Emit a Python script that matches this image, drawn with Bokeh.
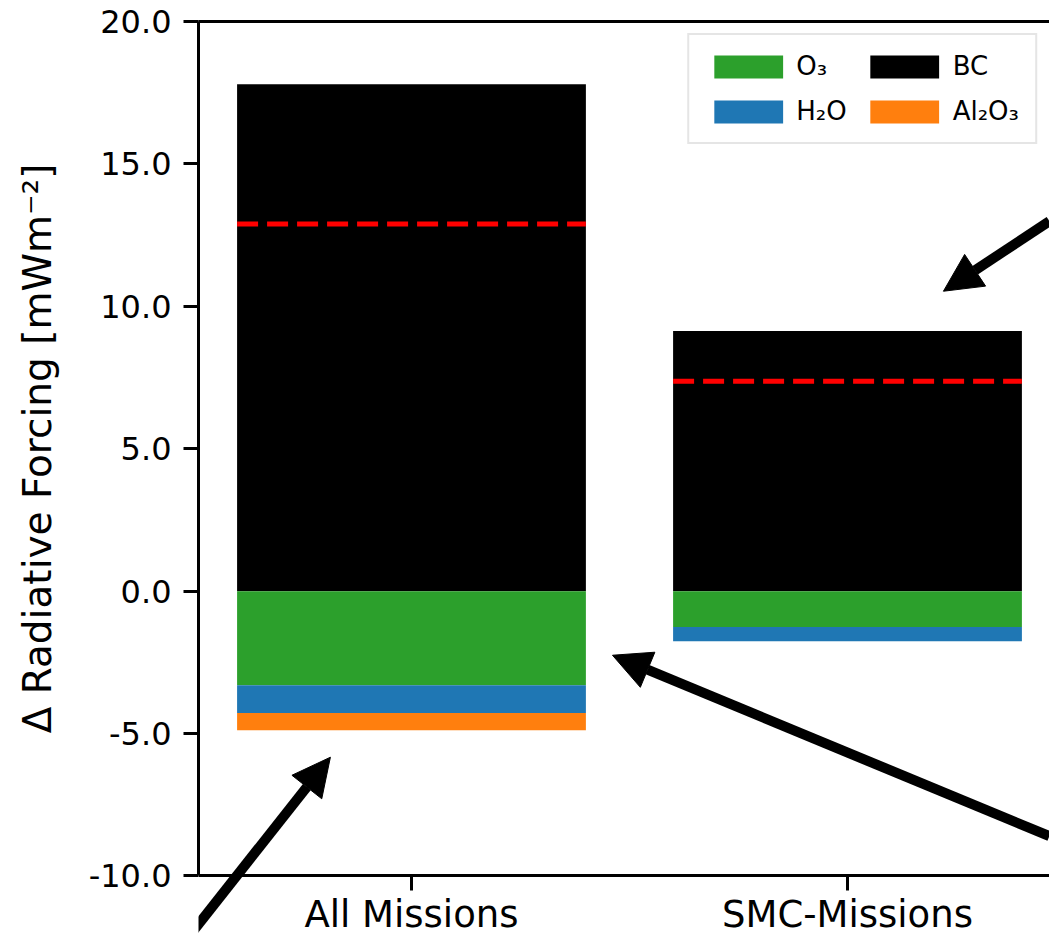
from bokeh.plotting import figure
from bokeh.models import (Range1d, FixedTicker, NumeralTickFormatter, LinearAxis,
                          Legend, LegendItem, Arrow, NormalHead, ColumnDataSource)
from bokeh.embed import file_html
from bokeh.resources import INLINE

# ---- data ----
missions = ["All Missions", "SMC-Missions"]
bc = [17.80, 9.13]
o3 = [-3.30, -1.26]
h2o = [-0.98, -0.50]
al2o3 = [-0.60, 0.0]
net_rf = [12.89, 7.37]
y_ticks = [-10, -5, 0, 5, 10, 15, 20]
y_axis_min, y_axis_max = -10, 20
legend_labels = ["O\u2083", "BC", "H\u2082O", "Al\u2082O\u2083"]

# annotation arrows (data coordinates)
arrow_x_start = [1.463, 1.463, -0.530]
arrow_y_start = [12.99, -8.60, -12.50]
arrow_x_end = [1.220, 0.461, -0.186]
arrow_y_end = [10.53, -2.25, -5.83]

FONT = "DejaVu Sans"
C_O3, C_H2O, C_AL, C_BC = "#2ca02c", "#1f77b4", "#ff7f0e", "black"

x = list(range(len(missions)))
h2o_top = o3
h2o_bot = [a + b for a, b in zip(o3, h2o)]
al_top = h2o_bot
al_bot = [a + b for a, b in zip(h2o_bot, al2o3)]

src = ColumnDataSource(dict(
    x=x, bc=bc, zero=[0] * len(x), o3=o3,
    h2o_top=h2o_top, h2o_bot=h2o_bot, al_top=al_top, al_bot=al_bot,
    x0=[i - 0.4 for i in x], x1=[i + 0.4 for i in x], net=net_rf,
))

# frame runs from the top spine (y=20) down to the bottom of the page so that the
# arrow below the x axis is visible; the x axis itself sits at y=-10.
p = figure(width=1049, height=937,
           x_range=Range1d(-0.4885, 1.4633), y_range=Range1d(-12.16, 20),
           output_backend="svg", toolbar_location=None,
           min_border_left=198, min_border_right=0,
           min_border_top=21, min_border_bottom=0)
p.grid.visible = False
p.outline_line_color = None
p.background_fill_color = "white"
p.border_fill_color = "white"

W = 0.8
r_bc = p.vbar(x="x", top="bc", bottom="zero", width=W, source=src,
              fill_color=C_BC, line_color=None)
r_o3 = p.vbar(x="x", top="zero", bottom="o3", width=W, source=src,
              fill_color=C_O3, line_color=None)
r_h2o = p.vbar(x="x", top="h2o_top", bottom="h2o_bot", width=W, source=src,
               fill_color=C_H2O, line_color=None)
r_al = p.vbar(x="x", top="al_top", bottom="al_bot", width=W, source=src,
              fill_color=C_AL, line_color=None)

p.segment(x0="x0", x1="x1", y0="net", y1="net", source=src,
          line_color="red", line_width=5, line_dash="21 9")

# axes
yax = p.yaxis[0]
yax.ticker = FixedTicker(ticks=y_ticks)
yax.formatter = NumeralTickFormatter(format="0.0")
yax.bounds = (y_axis_min, y_axis_max)
yax.axis_label = "\u00a0" * 5 + "\u0394 Radiative Forcing [mWm\u207b\u00b2]"
yax.axis_label_text_font = FONT
yax.axis_label_text_font_style = "normal"
yax.axis_label_text_font_size = "39px"
yax.axis_label_text_color = "black"
yax.axis_label_standoff = 26

xax = p.xaxis[0]
xax.ticker = FixedTicker(ticks=x)
xax.major_label_overrides = {i: m for i, m in zip(x, missions)}
xax.fixed_location = y_axis_min

for ax in (xax, yax):
    ax.axis_line_width = 3
    ax.axis_line_color = "black"
    ax.major_tick_line_width = 3
    ax.major_tick_line_color = "black"
    ax.major_tick_out = 15
    ax.major_tick_in = 0
    ax.minor_tick_line_color = None
    ax.major_label_text_font = FONT
    ax.major_label_text_color = "black"
yax.major_label_text_font_size = "32px"
xax.major_label_text_font_size = "37px"
xax.major_label_standoff = 2
yax.major_label_standoff = 12

top_ax = LinearAxis(ticker=FixedTicker(ticks=[]), axis_line_width=3,
                    axis_line_color="black", major_tick_line_color=None,
                    minor_tick_line_color=None, major_label_text_font_size="0px")
p.add_layout(top_ax, "above")

# legend (filled column by column: O3, H2O | BC, Al2O3)
leg = Legend(items=[
    LegendItem(label=legend_labels[0], renderers=[r_o3]),
    LegendItem(label=legend_labels[2], renderers=[r_h2o]),
    LegendItem(label=legend_labels[1], renderers=[r_bc]),
    LegendItem(label=legend_labels[3], renderers=[r_al]),
], ncols=2, location="top_right")
leg.label_text_font = FONT
leg.label_text_font_size = "26px"
leg.label_text_color = "black"
leg.glyph_width = 86
leg.glyph_height = 29
leg.label_standoff = 5
leg.spacing = 15
leg.padding = 16
leg.margin = 12
leg.border_line_color = "#cccccc"
leg.border_line_width = 2
leg.background_fill_alpha = 0.85
p.add_layout(leg)

# arrows
asrc = ColumnDataSource(dict(xs=arrow_x_start, ys=arrow_y_start,
                             xe=arrow_x_end, ye=arrow_y_end))
p.add_layout(Arrow(source=asrc, x_start="xs", y_start="ys", x_end="xe", y_end="ye",
                   line_width=10, line_color="black",
                   end=NormalHead(size=38, fill_color="black", line_color="black",
                                  line_width=1)))

open("out.html", "w").write(file_html(p, INLINE))
